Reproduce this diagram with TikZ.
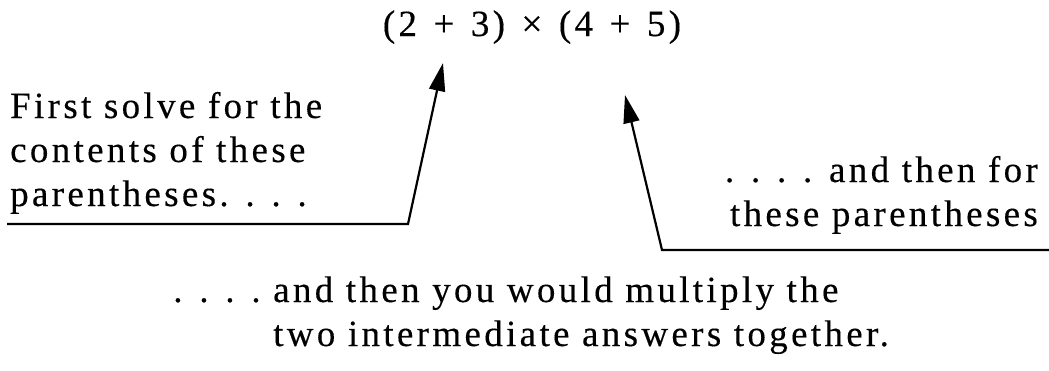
\documentclass[tikz,border=0pt]{standalone}
\usepackage{fontspec}
\setmainfont{Liberation Serif}[LetterSpace=9,FakeBold=0.3]
\usetikzlibrary{arrows.meta}
\newcommand{\opgap}{\hspace{16.5pt}}

\begin{document}
\begin{tikzpicture}[x=1pt,y=-1pt,
    txt/.style={inner sep=0pt, font=\fontsize{37}{44}\selectfont},
    pointer/.style={line width=2.2pt, -{Triangle[length=28pt,width=16pt]}}]
    \useasboundingbox (0,0) rectangle (1049,370);
    \node[txt, anchor=base] (expr) at (532,36)
        {(2\opgap+\opgap3)\opgap×\opgap(4\opgap+\opgap5)};
    \node[txt, anchor=base west, align=left] (first) at (10,206)
        {First solve for the\\contents of these\\parentheses. . . .};
    \node[txt, anchor=base east, align=right] (then) at (1038,226)
        {. . . . and then for\\these parentheses};
    \node[txt, anchor=base west, align=left] (mult) at (273,346)
        {\llap{. . . .\ }and then you would multiply the\\two intermediate answers together.};
    \coordinate (lstart) at (7,224);
    \coordinate (lbend) at (408,224);
    \coordinate (ltip) at (443,63);
    \coordinate (rstart) at (1049,250);
    \coordinate (rbend) at (662,250);
    \coordinate (rtip) at (625,95);
    \draw[pointer] (lstart) -- (lbend) -- (ltip);
    \draw[pointer] (rstart) -- (rbend) -- (rtip);
\end{tikzpicture}
\end{document}
